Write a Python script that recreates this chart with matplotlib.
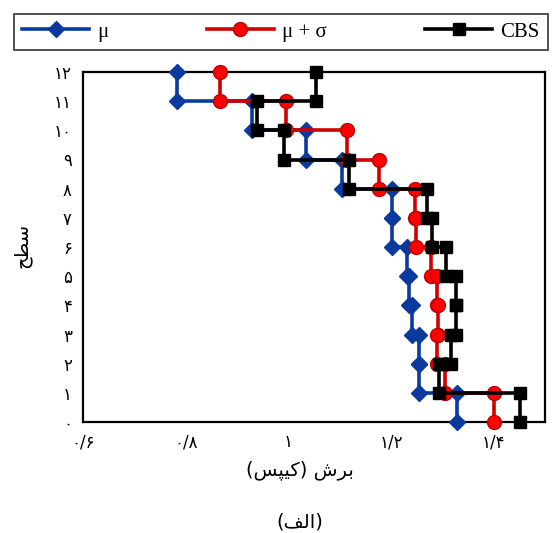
import matplotlib
matplotlib.use('Agg')
import matplotlib.pyplot as plt
import numpy as np

# story numbers (top to bottom) and story shear for each case
stories = [12, 11, 10, 9, 8, 7, 6, 5, 4, 3, 2, 1]
shear_mu = [0.784, 0.930, 1.035, 1.105, 1.202, 1.202, 1.231, 1.235, 1.241, 1.254, 1.254, 1.328]
shear_mu_sigma = [0.866, 0.996, 1.115, 1.177, 1.247, 1.249, 1.278, 1.289, 1.291, 1.289, 1.305, 1.400]
shear_cbs = [1.054, 0.938, 0.992, 1.118, 1.270, 1.280, 1.307, 1.326, 1.326, 1.317, 1.293, 1.452]

fa_digits = '۰۱۲۳۴۵۶۷۸۹'
def fa(s):
    return ''.join(fa_digits[int(c)] if c.isdigit() else c for c in s)

x_ticks = [0.6, 0.8, 1.0, 1.2, 1.4]
x_tick_labels = [fa('0/6'), fa('0/8'), fa('1'), fa('1/2'), fa('1/4')]
y_ticks = list(range(13))
y_tick_labels = [fa(str(i)) for i in y_ticks]

# arabic text in visual order with presentation forms
x_label = '(\uFEB2\uFB59\uFBFF\uFB90) \uFEB5\uFEAE\uFE91'   # برش (کیپس)
y_label = '\uFEA2\uFEC4\uFEB3'                              # سطح
caption = '(\uFED2\uFEDF\uFE8D)'                            # (الف)

def steps(vals):
    xs, ys = [], []
    for s, v in zip(stories, vals):
        xs += [v, v]
        ys += [s, s - 1]
    return xs, ys

fig = plt.figure(figsize=(5.52, 5.33), dpi=100)
ax = fig.add_axes([83/552, 1 - 422/533, 462/552, 350/533])

x, y = steps(shear_mu)
ax.plot(x, y, '-', color='#0a3a9e', lw=2.6, marker='D', ms=8,
        mfc='#0a3a9e', mec='#0a3a9e', label='μ', zorder=3, clip_on=False)
x, y = steps(shear_mu_sigma)
ax.plot(x, y, '-', color='#d00000', lw=2.6, marker='o', ms=10,
        mfc='#ff0000', mec='#c00000', label='μ + σ', zorder=4, clip_on=False)
x, y = steps(shear_cbs)
ax.plot(x, y, '-', color='black', lw=2.6, marker='s', ms=9,
        mfc='black', mec='black', label='CBS', zorder=5, clip_on=False)

ax.set_xlim(0.6, 1.5)
ax.set_ylim(0, 12)
ax.set_xticks(x_ticks)
ax.set_xticklabels(x_tick_labels, family=['DejaVu Sans'], fontsize=12)
ax.set_yticks(y_ticks)
ax.set_yticklabels(y_tick_labels, family=['DejaVu Sans'], fontsize=12)
ax.tick_params(length=0, pad=8)
for sp in ax.spines.values():
    sp.set_linewidth(1.6)
    sp.set_color('black')

fig.text(22/552, 1 - 245/533, y_label, rotation=90, ha='center', va='center',
         fontsize=14, family=['DejaVu Sans'])
fig.text(300/552, 1 - 470/533, x_label, ha='center', va='center',
         fontsize=14, family=['DejaVu Sans'])
fig.text(300/552, 1 - 522/533, caption, ha='center', va='center',
         fontsize=14, family=['DejaVu Sans'])

leg = fig.legend(loc='lower left', bbox_to_anchor=(14/552, 1 - 50/533, 534/552, 36/533),
                 mode='expand', ncol=3, frameon=True, fancybox=False, borderaxespad=0,
                 handlelength=3.2, handletextpad=0.4,
                 prop={'family': 'Liberation Serif', 'size': 15})
leg.get_frame().set_edgecolor('black')
leg.get_frame().set_linewidth(1.2)

fig.savefig('out.png', dpi=100)
